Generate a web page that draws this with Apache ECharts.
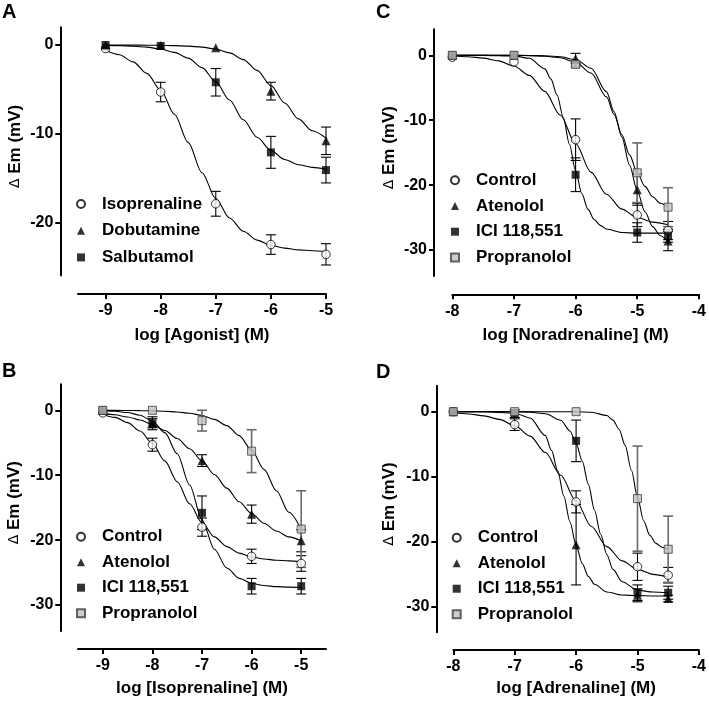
<!DOCTYPE html>
<html><head><meta charset="utf-8">
<script src="https://cdn.jsdelivr.net/npm/echarts@6/dist/echarts.min.js"></script>
<style>html,body{margin:0;padding:0;background:#fff}#chart{width:709px;height:705px}</style>
</head><body><div id="chart"></div>
<script>
// ================= DATA =================
const panelLetters = ['A', 'B', 'C', 'D'];
const xTitles = ['log [Agonist] (M)', 'log [Isoprenaline] (M)', 'log [Noradrenaline] (M)', 'log [Adrenaline] (M)'];
const yTitle = '{d|\u0394} Em (mV)';
const xTicksAB = [-9, -8, -7, -6, -5];
const xTicksCD = [-8, -7, -6, -5, -4];
const yTicksA = [0, -10, -20];
const yTicksBCD = [0, -10, -20, -30];
const namesA = ['Isoprenaline', 'Dobutamine', 'Salbutamol'];
const namesBCD = ['Control', 'Atenolol', 'ICI 118,551', 'Propranolol'];

const doseAB = [-9, -8, -7, -6, -5];
const doseCD = [-8, -7, -6, -5, -4.5];

// Panel A – measured means and SEM
const isoA = [-0.4, -5.3, -17.9, -22.5, -23.6];
const isoAErr = [0, 1.1, 1.4, 1.1, 1.2];
const dobA = [0, -0.05, -0.3, -5.2, -10.8];
const dobAErr = [0, 0, 0, 1.0, 1.55];
const salA = [0, -0.1, -4.2, -12.1, -14.1];
const salAErr = [0, 0, 1.55, 1.8, 1.45];

// Panel B
const ctlB = [-0.4, -5.3, -18.0, -22.5, -23.6];
const ctlBErr = [0, 1.0, 1.4, 1.1, 1.2];
const ateB = [0, -2.0, -7.75, -16.0, -20.1];
const ateBErr = [0, 0.7, 0.9, 1.4, 1.7];
const iciB = [0, -2.0, -15.8, -27.1, -27.1];
const iciBErr = [0, 1.0, 2.6, 1.2, 1.2];
const proB = [0, 0, -1.6, -6.3, -18.3];
const proBErr = [0, 0, 1.6, 3.3, 5.9];

// Panel C
const ctlC = [-0.3, -1.0, -13.0, -24.6, -27.0];
const ctlCErr = [0, 0, 3.2, 1.8, 1.4];
const ateC = [0, 0, -0.5, -20.7, -28.6];
const ateCErr = [0, 0, 0.8, 2.4, 1.5];
const iciC = [0, 0, -18.4, -27.3, -27.8];
const iciCErr = [0, 0, 2.6, 1.5, 1.0];
const proC = [0, 0, -1.4, -18.1, -23.4];
const proCErr = [0, 0, 0.4, 4.6, 3.0];

// Panel D
const ctlD = [0, -2.0, -13.9, -23.9, -25.2];
const ctlDErr = [0, 0.9, 1.7, 2.1, 1.2];
const ateD = [0, 0, -20.5, -28.3, -28.8];
const ateDErr = [0, 0, 6.2, 1.0, 0.5];
const iciD = [0, -0.3, -4.5, -27.9, -27.9];
const iciDErr = [0, 0.6, 3.2, 1.2, 1.0];
const proD = [0, 0, 0, -13.4, -21.2];
const proDErr = [0, 0, 0, 8.1, 5.1];

// Fitted curves
const curveXAB = [-9, -8.75, -8.5, -8.25, -8, -7.75, -7.5, -7.25, -7, -6.75, -6.5, -6.25, -6, -5.75, -5.5, -5.25, -5];
const isoACurve = [-0.6, -1.1, -1.9, -3.2, -5.1, -7.8, -11.0, -14.4, -17.3, -19.5, -21.0, -22.0, -22.6, -22.9, -23.1, -23.2, -23.3];
const dobACurve = [0, 0, -0.01, -0.02, -0.03, -0.07, -0.12, -0.23, -0.46, -0.88, -1.64, -2.86, -4.58, -6.54, -8.33, -9.66, -10.5];
const salACurve = [-0.04, -0.07, -0.13, -0.24, -0.45, -0.83, -1.48, -2.55, -4.14, -6.2, -8.43, -10.4, -11.9, -12.9, -13.5, -13.8, -14.0];
const ctlBCurve = [-0.6, -1.1, -1.9, -3.2, -5.1, -7.8, -11.0, -14.4, -17.3, -19.5, -21.0, -22.0, -22.6, -22.9, -23.1, -23.2, -23.3];
const ateBCurve = [-0.48, -0.70, -1.04, -1.51, -2.2, -3.12, -4.35, -5.92, -7.8, -9.9, -12.0, -14.1, -15.9, -17.4, -18.6, -19.5, -20.1];
const iciBCurve = [-0.07, -0.16, -0.35, -0.76, -1.65, -3.45, -6.7, -11.5, -16.9, -21.4, -24.3, -25.9, -26.65, -27.0, -27.17, -27.24, -27.28];
const proBCurve = [-0.01, -0.02, -0.03, -0.05, -0.08, -0.15, -0.26, -0.46, -0.8, -1.4, -2.37, -3.9, -6.15, -9.1, -12.4, -15.7, -18.35];

const curveXCctl = [-8, -7.75, -7.5, -7.25, -7, -6.75, -6.5, -6.25, -6, -5.75, -5.5, -5.25, -5, -4.75, -4.5];
const ctlCCurve = [-0.11, -0.22, -0.44, -0.86, -1.66, -3.1, -5.56, -9.2, -13.6, -18.0, -21.4, -23.7, -25.0, -25.7, -26.1];
const curveXCap = [-8, -7.5, -7, -6.75, -6.5, -6.25, -6, -5.75, -5.5, -5.375, -5.25, -5.125, -5, -4.875, -4.75, -4.625, -4.5];
const ateCCurve = [0, 0, -0.01, -0.03, -0.07, -0.22, -0.67, -2.0, -5.6, -8.7, -12.6, -16.9, -20.9, -24.1, -26.4, -27.8, -28.7];
const proCCurve = [0, -0.01, -0.02, -0.06, -0.14, -0.38, -1.05, -2.74, -6.4, -9.1, -12.25, -15.35, -18.1, -20.2, -21.8, -22.8, -23.45];
const curveXCici = [-8, -7.5, -7, -6.75, -6.5, -6.4, -6.3, -6.2, -6.1, -6, -5.9, -5.8, -5.7, -5.6, -5.5, -5.25, -5, -4.75, -4.5];
const iciCCurve = [0, -0.01, -0.1, -0.47, -2.1, -3.67, -6.13, -9.58, -13.7, -17.8, -21.3, -23.7, -25.3, -26.2, -26.76, -27.3, -27.4, -27.4, -27.4];

const curveXDctl = [-8, -7.75, -7.5, -7.25, -7, -6.75, -6.5, -6.25, -6, -5.75, -5.5, -5.25, -5, -4.75, -4.5];
const ctlDCurve = [-0.18, -0.35, -0.65, -1.19, -2.15, -3.77, -6.3, -9.8, -13.8, -17.7, -20.8, -23.0, -24.3, -25.07, -25.5];
const curveXDate = [-8, -7.5, -7, -6.75, -6.5, -6.4, -6.3, -6.2, -6.1, -6, -5.9, -5.8, -5.7, -5.5, -5.25, -5, -4.75, -4.5];
const ateDCurve = [0, -0.01, -0.24, -0.98, -3.7, -5.97, -9.1, -13.0, -17.0, -20.6, -23.4, -25.4, -26.6, -27.8, -28.26, -28.35, -28.4, -28.4];
const curveXDici = [-8, -7.5, -7, -6.75, -6.5, -6.25, -6.1, -6, -5.9, -5.8, -5.7, -5.6, -5.5, -5.4, -5.25, -5, -4.75, -4.5];
const iciDCurve = [0, 0, -0.02, -0.08, -0.33, -1.33, -2.97, -4.87, -7.6, -11.2, -15.2, -18.9, -22.0, -24.3, -26.2, -27.5, -27.8, -27.9];
const curveXDpro = [-8, -7, -6, -5.75, -5.5, -5.4, -5.3, -5.2, -5.1, -5, -4.9, -4.8, -4.7, -4.6, -4.5];
const proDCurve = [0, 0, -0.01, -0.08, -0.6, -1.3, -2.7, -5.2, -9.0, -13.2, -16.8, -19.05, -20.3, -20.9, -21.2];

// ================= STYLES =================
const FONT = "'Liberation Sans', Arial, sans-serif";
const markerStyles = {
  open:  { symbol: 'circle', symbolSize: 8.5, itemStyle: { color: '#ffffff', borderColor: '#000', borderWidth: 1 } },
  tri:   { symbol: 'triangle', symbolSize: 9, itemStyle: { color: '#000' } },
  sq:    { symbol: 'rect', symbolSize: 8, itemStyle: { color: '#000' } },
  grey:  { symbol: 'rect', symbolSize: 8, itemStyle: { color: '#c2c2c2', borderColor: '#3c3c3c', borderWidth: 1 } }
};
const legendIcons = { open: 'circle', tri: 'triangle', sq: 'rect', grey: 'rect' };
const kindsA = ['open', 'tri', 'sq'];
const kindsBCD = ['open', 'tri', 'sq', 'grey'];

const zip = (a, b) => a.map((v, i) => [v, b[i]]);
const zip3 = (a, b, c) => a.map((v, i) => [v, b[i], c[i]]);

const series = [];
function addCurve(gi, xs, ys) {
  series.push({
    type: 'line', xAxisIndex: gi, yAxisIndex: gi, data: zip(xs, ys),
    smooth: 0.3, smoothMonotone: 'x', showSymbol: false, symbol: 'none', silent: true, z: 2,
    lineStyle: { color: '#000', width: 1.1 }
  });
}
function addErr(gi, xs, ys, es, grey) {
  series.push({
    type: 'custom', xAxisIndex: gi, yAxisIndex: gi, silent: true, z: 3,
    data: zip3(xs, ys, es).filter(d => d[2] > 0),
    renderItem: function (params, api) {
      const x = api.value(0), y = api.value(1), e = api.value(2);
      const t = api.coord([x, y + e]);
      const b = api.coord([x, y - e]);
      const hw = 5;
      const st = { stroke: grey ? '#6a6a6a' : '#000', lineWidth: grey ? 1.6 : 1.1 };
      return { type: 'group', children: [
        { type: 'line', shape: { x1: t[0], y1: t[1], x2: b[0], y2: b[1] }, style: st },
        { type: 'line', shape: { x1: t[0] - hw, y1: t[1], x2: t[0] + hw, y2: t[1] }, style: st },
        { type: 'line', shape: { x1: b[0] - hw, y1: b[1], x2: b[0] + hw, y2: b[1] }, style: st }
      ]};
    }
  });
}
function addMarkers(gi, name, xs, ys, kind) {
  const s = markerStyles[kind];
  series.push(Object.assign({
    type: 'scatter', name: name, xAxisIndex: gi, yAxisIndex: gi, data: zip(xs, ys), z: 4, silent: true
  }, JSON.parse(JSON.stringify(s))));
}

// Panel A (grid 0)
addCurve(0, curveXAB, isoACurve); addCurve(0, curveXAB, dobACurve); addCurve(0, curveXAB, salACurve);
addErr(0, doseAB, isoA, isoAErr); addErr(0, doseAB, dobA, dobAErr); addErr(0, doseAB, salA, salAErr);
addMarkers(0, namesA[0], doseAB, isoA, 'open');
addMarkers(0, namesA[1], doseAB, dobA, 'tri');
addMarkers(0, namesA[2], doseAB, salA, 'sq');

// Panel B (grid 1)
addCurve(1, curveXAB, ctlBCurve); addCurve(1, curveXAB, ateBCurve); addCurve(1, curveXAB, iciBCurve); addCurve(1, curveXAB, proBCurve);
addErr(1, doseAB, ctlB, ctlBErr); addErr(1, doseAB, ateB, ateBErr); addErr(1, doseAB, iciB, iciBErr); addErr(1, doseAB, proB, proBErr, true);
addMarkers(1, namesBCD[0], doseAB, ctlB, 'open');
addMarkers(1, namesBCD[1], doseAB, ateB, 'tri');
addMarkers(1, namesBCD[2], doseAB, iciB, 'sq');
addMarkers(1, namesBCD[3], doseAB, proB, 'grey');

// Panel C (grid 2)
addCurve(2, curveXCctl, ctlCCurve); addCurve(2, curveXCap, ateCCurve); addCurve(2, curveXCici, iciCCurve); addCurve(2, curveXCap, proCCurve);
addErr(2, doseCD, ctlC, ctlCErr); addErr(2, doseCD, ateC, ateCErr); addErr(2, doseCD, iciC, iciCErr); addErr(2, doseCD, proC, proCErr, true);
addMarkers(2, namesBCD[0], doseCD, ctlC, 'open');
addMarkers(2, namesBCD[1], doseCD, ateC, 'tri');
addMarkers(2, namesBCD[2], doseCD, iciC, 'sq');
addMarkers(2, namesBCD[3], doseCD, proC, 'grey');

// Panel D (grid 3)
addCurve(3, curveXDctl, ctlDCurve); addCurve(3, curveXDate, ateDCurve); addCurve(3, curveXDici, iciDCurve); addCurve(3, curveXDpro, proDCurve);
addErr(3, doseCD, ctlD, ctlDErr); addErr(3, doseCD, ateD, ateDErr); addErr(3, doseCD, iciD, iciDErr); addErr(3, doseCD, proD, proDErr, true);
addMarkers(3, namesBCD[0], doseCD, ctlD, 'open');
addMarkers(3, namesBCD[1], doseCD, ateD, 'tri');
addMarkers(3, namesBCD[2], doseCD, iciD, 'sq');
addMarkers(3, namesBCD[3], doseCD, proD, 'grey');

// ================= LAYOUT =================
const grids = [
  { left: 78, top: 27.3, width: 248, height: 248.3 },
  { left: 78, top: 384.3, width: 248, height: 246.7 },
  { left: 452.3, top: 29.3, width: 248.4, height: 246.7 },
  { left: 453.3, top: 385.7, width: 248.4, height: 246.6 }
];
const xRanges = [[-9.5, -5], [-9.5, -4.5], [-8, -4], [-8, -4]];
const yRanges = [[-26, 2], [-34, 4], [-34, 4], [-34, 4]];
const xTicks = [xTicksAB, xTicksAB, xTicksCD, xTicksCD];
const yTicks = [yTicksA, yTicksBCD, yTicksBCD, yTicksBCD];
const xOffsets = [18.4, 18, 18.3, 17.7];
const yOffsets = [17.7, 17.7, 18.3, 17];
const xNameGaps = [33, 31, 33, 30];
const yNameGaps = [36, 37, 36, 38];

const axisLabelStyle = { fontSize: 16, fontWeight: 'bold', color: '#000', fontFamily: FONT };
const xAxes = grids.map((g, i) => ({
  type: 'value', gridIndex: i, min: xRanges[i][0], max: xRanges[i][1], offset: xOffsets[i],
  splitLine: { show: false },
  axisLine: { show: true, onZero: false, lineStyle: { color: '#000', width: 2 } },
  axisTick: { show: true, length: 5, customValues: xTicks[i], lineStyle: { color: '#000', width: 2 } },
  axisLabel: Object.assign({ customValues: xTicks[i], margin: 9, formatter: v => String(v) }, axisLabelStyle),
  name: xTitles[i], nameLocation: 'middle', nameGap: xNameGaps[i],
  nameTextStyle: { fontSize: 17, fontWeight: 'bold', color: '#000', fontFamily: FONT }
}));
const yAxes = grids.map((g, i) => ({
  type: 'value', gridIndex: i, min: yRanges[i][0], max: yRanges[i][1], offset: yOffsets[i],
  splitLine: { show: false },
  axisLine: { show: true, onZero: false, lineStyle: { color: '#000', width: 2 } },
  axisTick: { show: true, length: 5, customValues: yTicks[i], lineStyle: { color: '#000', width: 2 } },
  axisLabel: Object.assign({ customValues: yTicks[i], margin: 7, formatter: v => String(v) }, axisLabelStyle),
  name: yTitle, nameLocation: 'middle', nameGap: yNameGaps[i],
  nameTextStyle: { fontSize: 17, fontWeight: 'bold', color: '#000', fontFamily: FONT, padding: [0, 0, 0, 10],
    rich: { d: { fontSize: 14, fontWeight: 'normal', color: '#000', fontFamily: 'DejaVu Sans' } } }
}));

const titlePos = [[2, 2], [2, 361], [376, 2], [376, 362]];
const titles = panelLetters.map((t, i) => ({
  text: t, left: titlePos[i][0], top: titlePos[i][1], padding: 0,
  textStyle: { fontSize: 20, fontWeight: 'bold', color: '#000', fontFamily: FONT }
}));

// legend: left edge, first-row top, row gap
const legendPos = [[76, 195.5, 9.7], [76, 528.2, 8.5], [450, 171.8, 8.7], [451.7, 529.2, 8.5]];
const legendNames = [namesA, namesBCD, namesBCD, namesBCD];
const legendKinds = [kindsA, kindsBCD, kindsBCD, kindsBCD];
const legends = legendPos.map((p, i) => ({
  show: true, orient: 'vertical', left: p[0], top: p[1], itemGap: p[2], padding: 0,
  itemWidth: 8, itemHeight: 8, selectedMode: false,
  data: legendNames[i].map((n, k) => ({ name: n, icon: legendIcons[legendKinds[i][k]] })),
  textStyle: { fontSize: 17, fontWeight: 'bold', color: '#000', fontFamily: FONT, lineHeight: 17, padding: [0, 0, 0, 12] }
}));

const chart = echarts.init(document.getElementById('chart'), null, { renderer: 'canvas' });
chart.setOption({
  animation: false,
  backgroundColor: '#fff',
  textStyle: { fontFamily: FONT },
  title: titles,
  legend: legends,
  grid: grids,
  xAxis: xAxes,
  yAxis: yAxes,
  series: series
});
</script></body></html>
